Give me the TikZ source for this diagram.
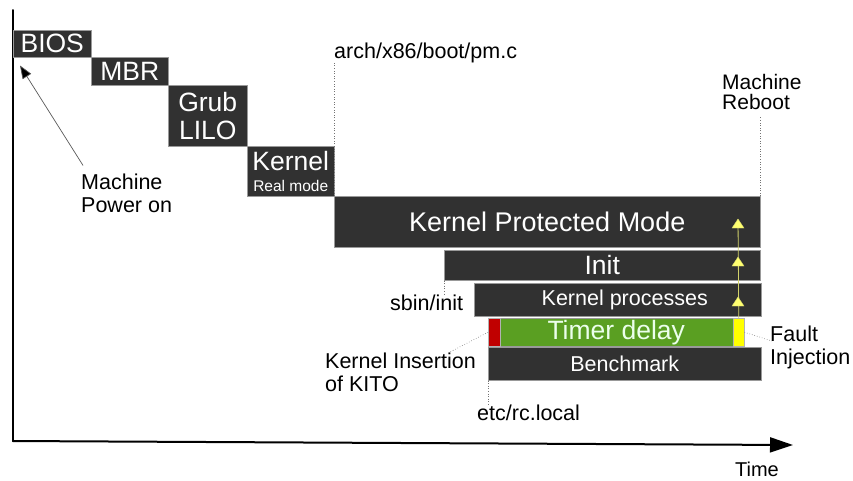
\documentclass[tikz,border=0pt]{standalone}
\usepackage{fontspec}
\setmainfont{Liberation Sans}
\usetikzlibrary{arrows.meta,calc}
\definecolor{boxgray}{HTML}{313131}
\definecolor{timergreen}{HTML}{5A9F22}
\definecolor{kitored}{HTML}{C00000}
\definecolor{faultyellow}{HTML}{FFFF00}
\definecolor{rebootline}{HTML}{D2D26A}
\definecolor{rebootfill}{HTML}{FFFF70}
\begin{document}
\begin{tikzpicture}[x=1pt,y=-1pt,
  stage/.style={fill=boxgray, draw=black!40, line width=0.5pt, text=white,
    inner sep=0pt, anchor=north west, align=center},
  big/.style={font=\fontsize{26.5}{28}\selectfont},
  mid/.style={font=\fontsize{21.5}{23}\selectfont},
  lbl/.style={inner sep=0pt, align=left, font=\fontsize{21.5}{23}\selectfont},
  leader/.style={draw=black!55, dotted, line width=0.6pt},
  axis/.style={line width=2pt, line cap=round},
]
\useasboundingbox (0,0) rectangle (853,480);

% time axes
\coordinate (ytip) at (13,10);
\coordinate (origin) at (13,441);
\coordinate (xtip) at (793,445);
\draw[axis] (ytip) -- (origin);
\draw[axis, -{Triangle[length=23pt,width=15pt]}] (origin) -- (xtip);
\node[lbl, font=\fontsize{20}{22}\selectfont] (time) at (757,469) {Time};

% boot stages, staircase
\node[stage,big,minimum width=78pt,minimum height=27pt] (bios) at (13,30) {BIOS};
\node[stage,big,minimum width=77pt,minimum height=28pt] (mbr) at (91,57) {MBR};
\node[stage,big,minimum width=79pt,minimum height=61pt] (grub) at (168,85) {Grub\\LILO};
\node[stage,font=\fontsize{26.5}{21}\selectfont,minimum width=87pt,minimum height=50pt] (kreal) at (247,146)
  {Kernel\\{\fontsize{15.5}{16}\selectfont Real mode}};
\node[stage,font=\fontsize{27}{29}\selectfont,minimum width=426pt,minimum height=51pt] (kpm) at (334,196) {Kernel Protected Mode};
\node[stage,big,minimum width=316pt,minimum height=30pt] (init) at (444,250) {Init};
\node[stage,mid,minimum width=287pt,minimum height=33pt] (kproc) at (474,283) {\hspace{14pt}Kernel processes};
\node[stage,big,fill=timergreen,text=white!92!green,minimum width=256pt,minimum height=28pt] (timer) at (488,318) {Timer delay};
\node[stage,mid,minimum width=273pt,minimum height=33pt] (bench) at (488,347) {Benchmark};
\node[stage,fill=kitored,draw=black!30,minimum width=12pt,minimum height=28pt] (red) at (488,318) {};
\node[stage,fill=faultyellow,draw=black!30,minimum width=11pt,minimum height=28pt] (yel) at (733,318) {};

% annotations
\node[lbl,anchor=west] (pwr) at (81,193) {Machine\\Power on};
\node[lbl,anchor=base west] (arch) at (334,58) {arch/x86/boot/pm.c};
\node[lbl,anchor=west,font=\fontsize{21}{20}\selectfont] (reboot) at (722,92) {Machine\\Reboot};
\node[lbl,anchor=base west] (sbin) at (390,310) {sbin/init};
\node[lbl,anchor=west] (kins) at (325,372) {Kernel Insertion\\of KITO};
\node[lbl,anchor=west] (fault) at (770,347) {Fault\\Injection};
\node[lbl,anchor=base west] (rclocal) at (477,420) {etc/rc.local};

% power-on pointer
\draw[black!65, line width=0.7pt, -{Triangle[length=13pt,width=10pt,fill=black]}]
  ($(pwr.north west)+(2,-8)$) -- ($(bios.south west)+(7,8)$);

% dotted leaders
\draw[leader] (kpm.north west) -- (kpm.north west |- arch.south);
\draw[leader] (kpm.north east) -- ($(kpm.north east |- reboot.south)+(0,6)$);
\draw[leader] (init.south west) -- (init.south west |- sbin.north);
\coordinate (kinsend) at (450,352);
\draw[leader] (red.west) -- (kinsend);
\coordinate (faultend) at (772,341);
\draw[leader] (yel.east) -- (faultend);
\draw[leader] (bench.south west) -- (bench.south west |- rclocal.north);

% reboot path: yellow line with arrowheads
\coordinate (ytop) at (738,219);
\draw[rebootline, line width=0.8pt] (yel.north) -- (ytop);
\foreach \yy in {219,257,297}
  \filldraw[fill=rebootfill, draw=rebootline, line width=0.4pt]
    (738,\yy) -- (732,\yy+9) -- (744,\yy+9) -- cycle;
\end{tikzpicture}
\end{document}
